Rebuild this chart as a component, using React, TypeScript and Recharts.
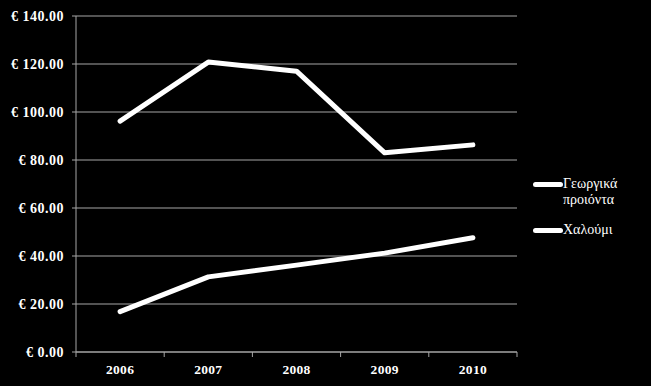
import React from "react";
import { LineChart, Line, XAxis, YAxis, CartesianGrid } from "recharts";

const years = ["2006", "2007", "2008", "2009", "2010"];
const agri = [96.2, 120.8, 117.0, 83.0, 86.3];
const halloumi = [16.8, 31.3, 36.2, 41.2, 47.6];
const yTicks = [0, 20, 40, 60, 80, 100, 120, 140];
const seriesNames = ["Γεωργικά προιόντα", "Χαλούμι"];

const data = years.map((y, i) => ({ pos: i + 0.5, year: y, agri: agri[i], halloumi: halloumi[i] }));
const xTicks: number[] = [];
for (let i = 0; i <= years.length; i++) {
  xTicks.push(i);
  if (i < years.length) xTicks.push(i + 0.5);
}

const AXIS = "#a6a6a6";
const FONT = "Times New Roman, Liberation Serif, Times, serif";

const XTick = (props: any) => {
  const { x, y, payload } = props;
  const v = payload.value as number;
  if (Number.isInteger(v)) {
    return <line x1={x} x2={x} y1={y} y2={y + 5} stroke={AXIS} strokeWidth={1} />;
  }
  const idx = Math.floor(v);
  return (
    <text x={x} y={y + 22} textAnchor="middle" fill="#fff" style={{ fontFamily: FONT, fontWeight: 700, fontSize: 13.5, letterSpacing: 0.3 }}>
      {years[idx]}
    </text>
  );
};

const YTick = (props: any) => {
  const { x, y, payload } = props;
  return (
    <text x={x} y={y} dy={5} textAnchor="end" fill="#fff" style={{ fontFamily: FONT, fontWeight: 700, fontSize: 14, letterSpacing: 0.5 }}>
      {"€ " + (payload.value as number).toFixed(2)}
    </text>
  );
};

const LegendBox = () => (
  <div style={{ position: "absolute", left: 533, top: 176, fontFamily: FONT, fontSize: 14, color: "#fff", lineHeight: "16px" }}>
    {seriesNames.map((n, i) => (
      <div key={n} style={{ display: "flex", alignItems: "flex-start", marginBottom: i === 0 ? 14 : 0 }}>
        <div style={{ width: 30, height: 5, background: "#fff", borderRadius: 3, marginTop: 6, flexShrink: 0 }} />
        <div style={{ width: 66 }}>{n}</div>
      </div>
    ))}
  </div>
);

export default function App() {
  return (
    <div style={{ position: "absolute", left: 0, top: 0, width: 651, height: 386, background: "#000" }}>
      <LineChart width={651} height={386} data={data} margin={{ top: 16, right: 134, bottom: 0, left: 0 }}>
        <CartesianGrid vertical={false} stroke={AXIS} strokeWidth={1} />
        <XAxis
          dataKey="pos"
          type="number"
          domain={[0, years.length]}
          ticks={xTicks}
          interval={0}
          tick={<XTick />}
          tickLine={false}
          tickSize={0}
          tickMargin={0}
          axisLine={{ stroke: AXIS }}
          height={34}
        />
        <YAxis
          domain={[0, 140]}
          ticks={yTicks}
          interval={0}
          width={76}
          tickSize={4}
          tickMargin={8}
          tickLine={{ stroke: AXIS }}
          axisLine={{ stroke: AXIS }}
          tick={<YTick />}
        />
        <Line dataKey="agri" name={seriesNames[0]} stroke="#fff" strokeWidth={5} dot={false} isAnimationActive={false} strokeLinecap="round" strokeLinejoin="round" />
        <Line dataKey="halloumi" name={seriesNames[1]} stroke="#fff" strokeWidth={5} dot={false} isAnimationActive={false} strokeLinecap="round" strokeLinejoin="round" />
      </LineChart>
      <LegendBox />
    </div>
  );
}
